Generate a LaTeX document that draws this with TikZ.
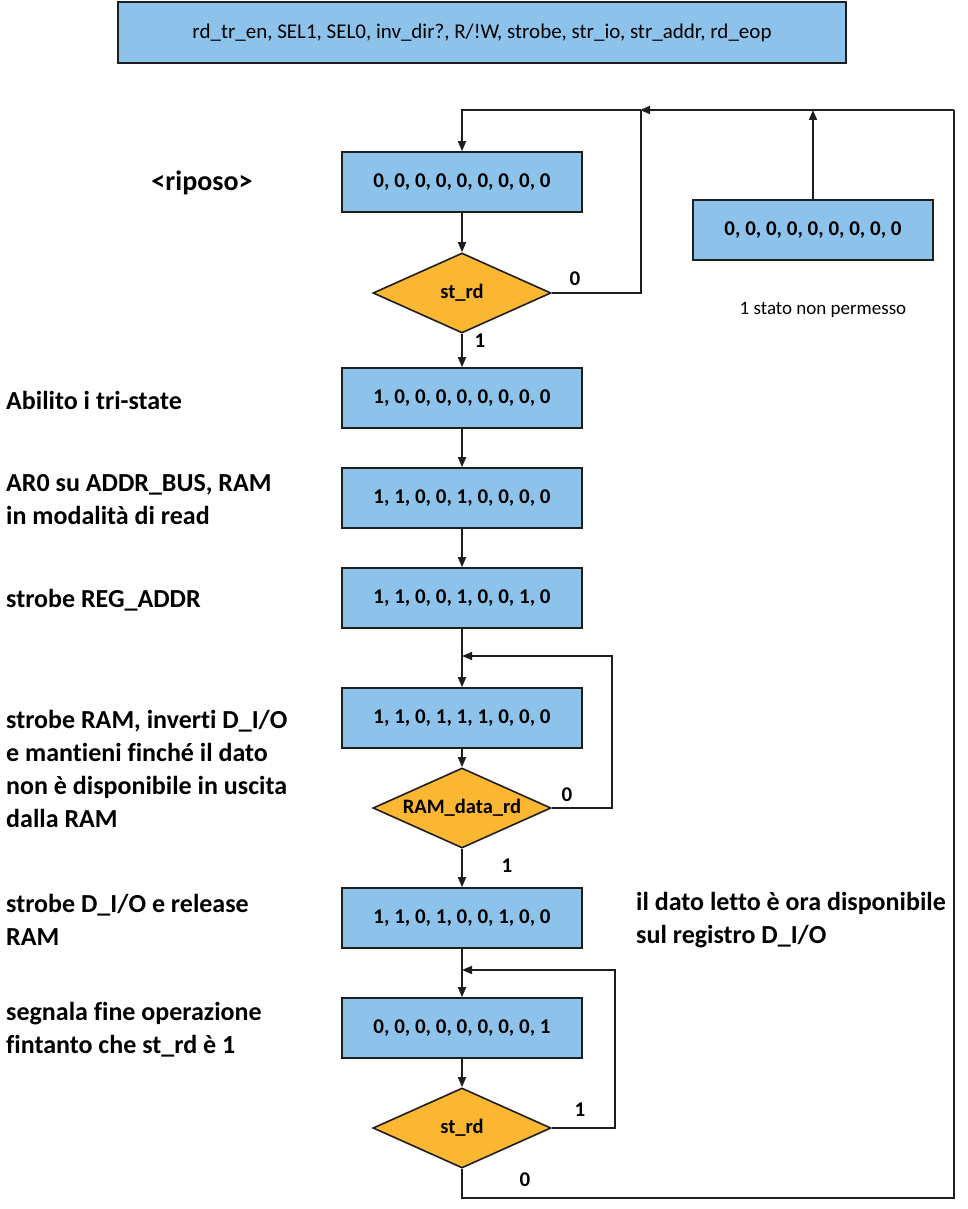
\documentclass[tikz,border=0pt]{standalone}
\usepackage{fontspec}
\setmainfont{Carlito}[Ligatures=NoCommon]
\usetikzlibrary{arrows.meta,shapes.geometric}
\definecolor{boxblue}{RGB}{141,195,235}
\definecolor{diaorange}{RGB}{251,182,50}
\definecolor{edge}{RGB}{30,30,30}
\begin{document}
\begin{tikzpicture}[x=1pt,y=-1pt,
  statebox/.style={draw=edge,line width=1.6pt,fill=boxblue,minimum width=240pt,minimum height=60pt,inner sep=0pt,font=\bfseries\fontsize{21}{25}\selectfont},
  decis/.style={draw=edge,line width=1.6pt,fill=diaorange,diamond,aspect=2.225,minimum width=178pt,minimum height=80pt,inner sep=0pt,font=\bfseries\fontsize{20.5}{24}\selectfont},
  lbl/.style={anchor=west,align=left,inner sep=0pt,font=\bfseries\fontsize{26}{33}\selectfont},
  bit/.style={inner sep=0pt,font=\bfseries\fontsize{21}{25}\selectfont},
  conn/.style={draw=edge,line width=1.6pt},
  arr/.style={conn,-{Triangle[length=10pt,width=8pt]}}
]
\useasboundingbox (0,0) rectangle (967,1209);
\fill[white] (0,0) rectangle (967,1209);

\node[draw=edge,line width=1.6pt,fill=boxblue,minimum width=728pt,minimum height=61pt,inner sep=0pt,font=\fontsize{21}{25}\selectfont] (hdr) at (482,32.5) {rd\_tr\_en, SEL1, SEL0, inv\_dir?, R/!W, strobe, str\_io, str\_addr, rd\_eop};

\node[statebox] (s0) at (462,182) {0, 0, 0, 0, 0, 0, 0, 0, 0};
\node[decis] (d1) at (462,293) {st\_rd};
\node[statebox] (s1) at (462,398) {1, 0, 0, 0, 0, 0, 0, 0, 0};
\node[statebox] (s2) at (462,498) {1, 1, 0, 0, 1, 0, 0, 0, 0};
\node[statebox] (s3) at (462,598) {1, 1, 0, 0, 1, 0, 0, 1, 0};
\node[statebox] (s4) at (462,718) {1, 1, 0, 1, 1, 1, 0, 0, 0};
\node[decis] (d2) at (462,808) {RAM\_data\_rd};
\node[statebox] (s5) at (462,918) {1, 1, 0, 1, 0, 0, 1, 0, 0};
\node[statebox] (s6) at (462,1028) {0, 0, 0, 0, 0, 0, 0, 0, 1};
\node[decis] (d3) at (462,1128) {st\_rd};
\node[statebox] (sx) at (813,230) {0, 0, 0, 0, 0, 0, 0, 0, 0};

\node[font=\fontsize{19}{22}\selectfont,inner sep=0pt] (np) at (823,310) {1 stato non permesso};

\node[font=\bfseries\fontsize{28}{32}\selectfont,inner sep=0pt] (rip) at (202,183) {<riposo>};
\node[lbl] (l1) at (6,400) {Abilito i tri-state};
\node[lbl] (l2) at (6,499.5) {AR0 su ADDR\_BUS, RAM\\in modalità di read};
\node[lbl] (l3) at (6,600) {strobe REG\_ADDR};
\node[lbl] (l4) at (6,769) {strobe RAM, inverti D\_I/O\\e mantieni finché il dato\\non è disponibile in uscita\\dalla RAM};
\node[lbl] (l5) at (6,919.5) {strobe D\_I/O e release\\RAM};
\node[lbl] (l6) at (6,1029.5) {segnala fine operazione\\fintanto che st\_rd è 1};
\node[lbl] (l7) at (636,920) {il dato letto è ora disponibile\\sul registro D\_I/O};

\node[bit] (b0a) at (575,279) {0};
\node[bit] (b1a) at (480,341) {1};
\node[bit] (b0b) at (567,795) {0};
\node[bit] (b1b) at (507,866) {1};
\node[bit] (b1c) at (580,1110) {1};
\node[bit] (b0c) at (525,1180) {0};

\coordinate (tl) at (462,110);
\coordinate (tj) at (641,110);
\coordinate (tr) at (954,110);
\coordinate (j1) at (462,656);
\coordinate (j2) at (462,970);

% top loop
\draw[arr] (tj) -- (tl) -- (s0.north);
\draw[conn] (d1.east) -| (tj);
\draw[arr] (sx.north) -- (sx.north |- tl);
\draw[arr] (tr) -- ([xshift=-1pt]tj);
\draw[conn] (d3.south) -- (462,1198) -| (tr);

% main chain
\draw[arr] (s0) -- (d1);
\draw[arr] (d1) -- (s1);
\draw[arr] (s1) -- (s2);
\draw[arr] (s2) -- (s3);
\draw[arr] (s3.south) -- (s4.north);
\draw[arr] (d2.east) -- (612,808) |- (j1);
\draw[arr] (s4) -- (d2);
\draw[arr] (d2) -- (s5);
\draw[arr] (s5.south) -- (s6.north);
\draw[arr] (d3.east) -- (615,1128) |- (j2);
\draw[arr] (s6) -- (d3);
\end{tikzpicture}
\end{document}
